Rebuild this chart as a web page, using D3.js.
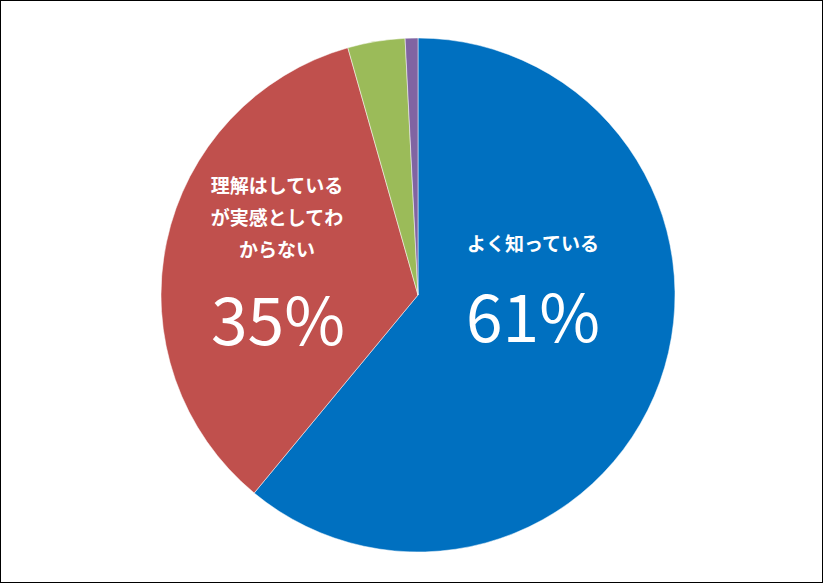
<!DOCTYPE html>
<html><head><meta charset="utf-8">
<script src="https://cdn.jsdelivr.net/npm/d3@7"></script>
<style>body{margin:0;background:#fff}</style></head>
<body><svg id="c" width="823" height="583"></svg>
<script>
const categories = ["よく知っている","理解はしているが実感としてわからない","その他","無回答"];
const values = [61, 34.6, 3.6, 0.8];
const colors = ["#0070c0","#c0504d","#9bbb59","#8064a2"];
const pctLabels = ["61%","35%"];

const svg = d3.select("#c");
svg.append("rect").attr("x",0.5).attr("y",0.5).attr("width",822).attr("height",582)
  .attr("fill","#fff").attr("stroke","#000");
const g = svg.append("g").attr("transform","translate(418,295)");
const pie = d3.pie().sort(null).value(d=>d)(values);
const arc = d3.arc().innerRadius(0).outerRadius(257);
g.selectAll("path").data(pie).enter().append("path")
  .attr("d",arc).attr("fill",(d,i)=>colors[i]).attr("stroke","#fff").attr("stroke-width",0.5);

const font = "'Noto Sans CJK JP', sans-serif";
function txt(x,y,s,size,weight){
  svg.append("text").attr("x",x).attr("y",y).attr("text-anchor","middle")
    .attr("font-family",font).attr("font-size",size).attr("font-weight",weight)
    .attr("fill","#fff").text(s);
}
txt(533,251,categories[0],19,"bold");
txt(533,342,pctLabels[0],66,"normal");
["理解はしている","が実感としてわ","からない"].forEach((s,i)=>txt(277,193+i*32,s,19,"bold"));
txt(278,345,pctLabels[1],66,"normal");
</script></body></html>
